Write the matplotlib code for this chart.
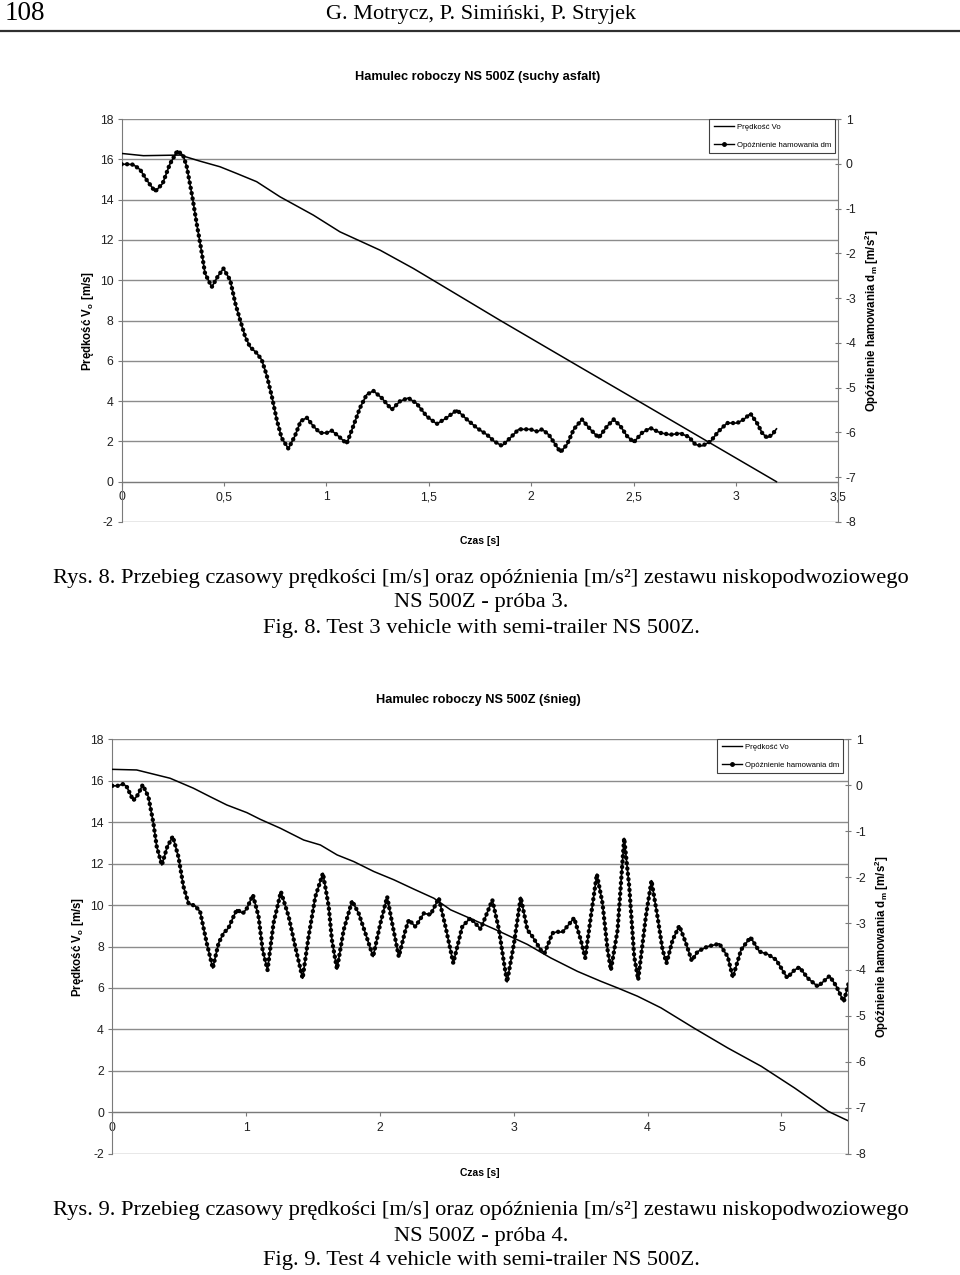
import matplotlib
matplotlib.use("Agg")
import matplotlib.pyplot as plt
from matplotlib.lines import Line2D

plt.rcParams['font.family'] = ['Liberation Sans', 'DejaVu Sans']
plt.rcParams['axes.unicode_minus'] = False
plt.rcParams['mathtext.fontset'] = 'custom'
plt.rcParams['mathtext.rm'] = 'Liberation Sans'
plt.rcParams['mathtext.bf'] = 'Liberation Sans:bold'
plt.rcParams['mathtext.it'] = 'Liberation Sans:italic'

# ---------------- data: Rys. 8 (suchy asfalt) ----------------
t3_v = [0.0, 0.106, 0.285, 0.382, 0.48, 0.561, 0.659, 0.773, 0.936, 1.066, 1.262,
        1.425, 1.588, 1.846, 2.223, 2.517, 2.891, 3.198]
v3 = [16.29, 16.18, 16.21, 15.91, 15.63, 15.3, 14.89, 14.14, 13.23, 12.4, 11.49,
      10.58, 9.59, 8.02, 5.78, 4.04, 1.82, 0.0]

t3_d = [0.0, 0.03, 0.057, 0.09, 0.12, 0.163, 0.2, 0.235, 0.272, 0.30, 0.318, 0.345,
        0.366, 0.386, 0.407, 0.44, 0.47, 0.497, 0.53, 0.555, 0.579, 0.603, 0.627,
        0.66, 0.684, 0.708, 0.733, 0.757, 0.781, 0.814, 0.846, 0.874, 0.904, 0.936,
        0.969, 1.001, 1.026, 1.058, 1.099, 1.131, 1.164, 1.196, 1.229, 1.27, 1.319,
        1.36, 1.40, 1.44, 1.49, 1.539, 1.588, 1.637, 1.686, 1.735, 1.784, 1.82,
        1.857, 1.898, 1.939, 1.996, 2.03, 2.053, 2.086, 2.118, 2.143, 2.175, 2.208,
        2.248, 2.289, 2.33, 2.371, 2.403, 2.436, 2.468, 2.501, 2.541, 2.582, 2.631,
        2.68, 2.729, 2.77, 2.802, 2.835, 2.876, 2.916, 2.957, 3.006, 3.038, 3.071,
        3.103, 3.128, 3.152, 3.177, 3.198]
dm3 = [-0.01, -0.01, -0.02, -0.13, -0.35, -0.62, -0.44, -0.01, 0.29, 0.19, -0.07, -0.74,
       -1.33, -1.85, -2.45, -2.75, -2.51, -2.34, -2.6, -3.12, -3.5, -3.86, -4.09,
       -4.23, -4.38, -4.72, -5.19, -5.71, -6.12, -6.36, -6.08, -5.75, -5.67, -5.86,
       -6.01, -6.01, -5.96, -6.08, -6.25, -5.86, -5.45, -5.16, -5.07, -5.23, -5.49,
       -5.3, -5.23, -5.35, -5.64, -5.81, -5.67, -5.5, -5.71, -5.9, -6.05, -6.2,
       -6.3, -6.12, -5.93, -5.93, -5.98, -5.93, -6.05, -6.27, -6.44, -6.27, -5.93,
       -5.71, -5.93, -6.12, -5.86, -5.71, -5.86, -6.08, -6.22, -6.01, -5.9, -6.01,
       -6.05, -6.02, -6.1, -6.27, -6.3, -6.2, -5.97, -5.79, -5.79, -5.71, -5.58,
       -5.79, -6.01, -6.12, -6.05, -5.92]

# ---------------- data: Rys. 9 (snieg) ----------------
t4_v = [0.0, 0.182, 0.282, 0.432, 0.606, 0.731, 0.856, 1.006, 1.105, 1.255, 1.43,
        1.555, 1.68, 1.804, 1.954, 2.104, 2.253, 2.403, 2.528, 2.677, 2.852, 3.102,
        3.276, 3.476, 3.651, 3.776, 3.925, 4.1, 4.35, 4.6, 4.849, 5.099, 5.348, 5.505]
v4 = [16.55, 16.52, 16.36, 16.12, 15.64, 15.23, 14.83, 14.46, 14.14, 13.71, 13.14,
      12.9, 12.42, 12.1, 11.62, 11.22, 10.77, 10.33, 9.77, 9.35, 8.85, 8.1,
      7.45, 6.8, 6.32, 6.0, 5.6, 5.04, 4.05, 3.1, 2.22, 1.17, 0.05, -0.43]

t4_d = [0.0, 0.04, 0.083, 0.108, 0.157, 0.19, 0.227, 0.27, 0.307, 0.332, 0.37, 0.41,
        0.452, 0.494, 0.532, 0.569, 0.619, 0.656, 0.706, 0.751, 0.794, 0.831, 0.868,
        0.906, 0.931, 0.976, 1.006, 1.051, 1.093, 1.123, 1.16, 1.205, 1.26, 1.318,
        1.367, 1.422, 1.467, 1.517, 1.574, 1.617, 1.641, 1.679, 1.729, 1.792, 1.841,
        1.891, 1.949, 2.004, 2.054, 2.091, 2.141, 2.191, 2.216, 2.265, 2.328, 2.378,
        2.44, 2.49, 2.548, 2.615, 2.675, 2.752, 2.84, 2.89, 2.927, 2.95, 3.002,
        3.052, 3.102, 3.139, 3.201, 3.231, 3.289, 3.326, 3.364, 3.451, 3.501, 3.534,
        3.576, 3.621, 3.663, 3.701, 3.726, 3.776, 3.825, 3.863, 3.9, 3.93, 3.987,
        4.029, 4.074, 4.112, 4.142, 4.187, 4.237, 4.287, 4.33, 4.374, 4.449, 4.536,
        4.599, 4.637, 4.699, 4.769, 4.836, 4.899, 4.961, 5.043, 5.098, 5.135, 5.198,
        5.272, 5.36, 5.41, 5.466, 5.505]
dm4 = [-0.01, -0.01, 0.03, -0.03, -0.33, -0.21, 0.01, -0.25, -0.82, -1.33, -1.73, -1.34,
       -1.11, -1.55, -2.2, -2.56, -2.62, -2.74, -3.43, -3.97, -3.43, -3.21, -3.1,
       -2.85, -2.7, -2.78, -2.67, -2.38, -2.85, -3.57, -4.01, -2.99, -2.31, -2.85,
       -3.5, -4.19, -3.28, -2.42, -1.91, -2.63, -3.36, -3.99, -3.14, -2.51, -2.78,
       -3.21, -3.72, -2.99, -2.42, -2.99, -3.72, -3.14, -2.92, -3.07, -2.78, -2.81,
       -2.45, -3.07, -3.86, -3.07, -2.88, -3.12, -2.49, -3.14, -3.86, -4.27, -3.43,
       -2.43, -3.14, -3.28, -3.57, -3.64, -3.21, -3.18, -3.19, -2.88, -3.36, -3.75,
       -2.85, -1.93, -2.56, -3.57, -4.01, -3.14, -1.15, -2.2, -3.72, -4.22, -2.85,
       -2.07, -2.85, -3.57, -3.86, -3.36, -3.05, -3.43, -3.81, -3.61, -3.5, -3.44,
       -3.72, -4.17, -3.57, -3.3, -3.61, -3.67, -3.79, -4.18, -4.01, -3.95, -4.19,
       -4.37, -4.14, -4.36, -4.7, -4.27]

xt3 = [0, 0.5, 1, 1.5, 2, 2.5, 3, 3.5]
xt3_labels = ["0", "0,5", "1", "1,5", "2", "2,5", "3", "3,5"]
xt4 = [0, 1, 2, 3, 4, 5]
xt4_labels = ["0", "1", "2", "3", "4", "5"]
yl_ticks = list(range(-2, 19, 2))
yr_ticks = list(range(-8, 2))

leg_labels = ["Prędkość Vo", "Opóźnienie hamowania dm"]

W, H = 960, 1275
fig = plt.figure(figsize=(W / 100, H / 100), dpi=100)

GRID = '#8c8c8c'
SPINE = '#7a7a7a'
TICK_FS = 8.8


def fx(x):
    return x / W


def fy(y):
    return 1 - y / H


def chart(px_l, px_r, px_t, px_b, tv, v, td, d, xmax, xt, xtl, title, title_y,
          xlab_y, ylab_x, rlab_x, leg_gap):
    ax = fig.add_axes([fx(px_l), fy(px_b), (px_r - px_l) / W, (px_b - px_t) / H])
    ax.set_xlim(0, xmax)
    ax.set_ylim(-2, 18)
    ax.set_yticks(yl_ticks)
    ax.set_yticklabels([str(k) for k in yl_ticks])
    ax.set_xticks(xt)
    ax.set_xticklabels(xtl)
    ax.yaxis.grid(True, color=GRID, lw=1.0)
    ax.set_axisbelow(True)
    for s in ['top', 'right']:
        ax.spines[s].set_visible(False)
    ax.spines['left'].set_color(SPINE)
    ax.spines['bottom'].set_color(SPINE)
    ax.spines['bottom'].set_position(('data', 0))
    ax.tick_params(axis='y', direction='out', length=3, color=SPINE, labelsize=TICK_FS,
                   pad=3, labelcolor='#202020')
    ax.tick_params(axis='x', direction='out', length=3, color=SPINE, labelsize=TICK_FS,
                   pad=4, labelcolor='#202020')
    ax.plot(tv, v, color='black', lw=1.1, zorder=3)

    ax2 = ax.twinx()
    ax2.set_ylim(-8, 1)
    ax2.set_yticks(yr_ticks)
    ax2.set_yticklabels([str(k) for k in yr_ticks])
    for s in ['top', 'left', 'bottom']:
        ax2.spines[s].set_visible(False)
    ax2.spines['right'].set_color(SPINE)
    ax2.tick_params(axis='y', direction='inout', length=5, color=SPINE, labelsize=TICK_FS,
                    pad=3, labelcolor='#202020')
    ax2.plot(td, d, color='black', lw=1.2, zorder=3)
    ax2.plot(td, d, color='black', lw=3.2, linestyle=(0, (0.01, 1.2)),
             dash_capstyle='round', zorder=3)

    handles = [Line2D([], [], color='black', lw=1.0),
               Line2D([], [], color='black', lw=1.0, marker='o', ms=2.5)]
    leg = ax2.legend(handles, leg_labels, loc='upper right',
                     bbox_to_anchor=(1 - leg_gap / (px_r - px_l), 1.0),
                     borderaxespad=0, fontsize=5.6, frameon=True, fancybox=False,
                     edgecolor='#404040', framealpha=1, handlelength=2.6,
                     handletextpad=0.35, labelspacing=1.35, borderpad=0.55,
                     numpoints=1)
    leg.get_frame().set_linewidth(0.8)

    fig.text(fx(478), fy(title_y), title, ha='center', va='center',
             fontsize=9.2, fontweight='bold')
    fig.text(fx(480), fy(xlab_y), "Czas [s]", ha='center', va='center',
             fontsize=7.5, fontweight='bold')
    yc = (px_t + px_b) / 2
    fig.text(fx(ylab_x), fy(yc), r"Prędkość $\mathbf{V_o}$ [m/s]", rotation=90,
             ha='center', va='center', fontsize=8.3, fontweight='bold')
    fig.text(fx(rlab_x), fy(yc), r"Opóźnienie hamowania $\mathbf{d_m}$ [m/s$\mathbf{^2}$]",
             rotation=90, ha='center', va='center', fontsize=8.3, fontweight='bold')
    return ax, ax2


chart(121.7, 838.3, 119, 522, t3_v, v3, t3_d, dm3, 3.5, xt3, xt3_labels,
      "Hamulec roboczy NS 500Z (suchy asfalt)", 77, 541, 88, 872, 3)
chart(112.3, 848.3, 739.3, 1153.7, t4_v, v4, t4_d, dm4, 5.5, xt4, xt4_labels,
      "Hamulec roboczy NS 500Z (śnieg)", 700, 1173, 78, 882, 5)

# page header
serif = ['Liberation Serif', 'DejaVu Serif']
fig.text(fx(5), fy(14), "108", ha='left', va='center', fontsize=19.5, family=serif)
fig.text(fx(481), fy(14), "G. Motrycz, P. Simiński, P. Stryjek", ha='center',
         va='center', fontsize=16, family=serif)
fig.add_artist(Line2D([0, 1], [fy(31), fy(31)], color='#303030', lw=1.6,
                      transform=fig.transFigure))

cap_fs = 16.2
cap8 = ["Rys. 8. Przebieg czasowy prędkości [m/s] oraz opóźnienia [m/s²] zestawu niskopodwoziowego",
        "NS 500Z - próba 3.",
        "Fig. 8. Test 3 vehicle with semi-trailer NS 500Z."]
cap9 = ["Rys. 9. Przebieg czasowy prędkości [m/s] oraz opóźnienia [m/s²] zestawu niskopodwoziowego",
        "NS 500Z - próba 4.",
        "Fig. 9. Test 4 vehicle with semi-trailer NS 500Z."]
for txt, y in zip(cap8, [578, 603, 628]):
    fig.text(fx(481), fy(y), txt, ha='center', va='center', fontsize=cap_fs, family=serif)
for txt, y in zip(cap9, [1211, 1236, 1261]):
    fig.text(fx(481), fy(y), txt, ha='center', va='center', fontsize=cap_fs, family=serif)

fig.savefig("out.png", dpi=100)
